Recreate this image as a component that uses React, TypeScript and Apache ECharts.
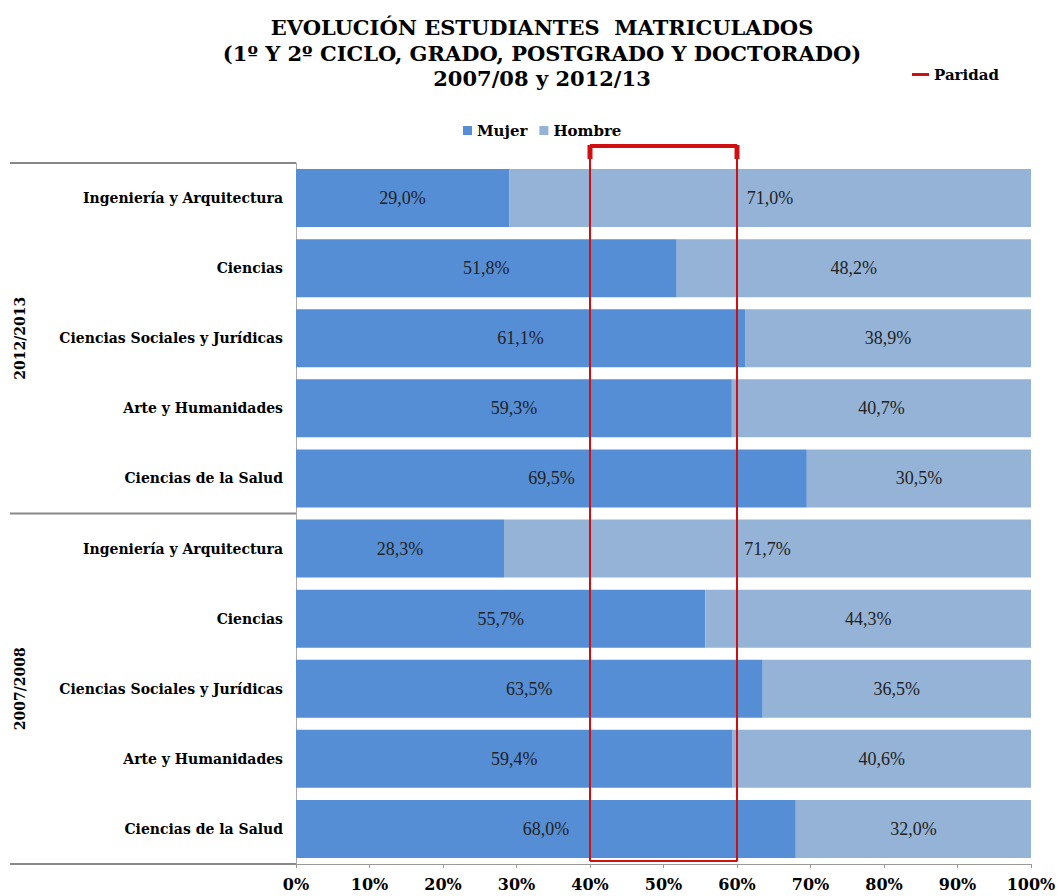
import React, { useEffect, useRef } from "react";
import * as echarts from "echarts";

const titleLines = [
  "EVOLUCIÓN ESTUDIANTES  MATRICULADOS",
  "(1º Y 2º CICLO, GRADO, POSTGRADO Y DOCTORADO)",
  "2007/08 y 2012/13",
];
const categories = [
  "Ingeniería y Arquitectura",
  "Ciencias",
  "Ciencias Sociales y Jurídicas",
  "Arte y Humanidades",
  "Ciencias de la Salud",
  "Ingeniería y Arquitectura",
  "Ciencias",
  "Ciencias Sociales y Jurídicas",
  "Arte y Humanidades",
  "Ciencias de la Salud",
];
const groups = ["2012/2013", "2007/2008"];
const mujer = [29.0, 51.8, 61.1, 59.3, 69.5, 28.3, 55.7, 63.5, 59.4, 68.0];
const hombre = [71.0, 48.2, 38.9, 40.7, 30.5, 71.7, 44.3, 36.5, 40.6, 32.0];
const parityRange = [40, 60];

const SERIF = "'Liberation Serif', 'Times New Roman', serif";
const HEAVY = "'DejaVu Serif', serif";

export default function App() {
  const ref = useRef<HTMLDivElement>(null);
  useEffect(() => {
    const chart = echarts.init(ref.current!, null, { renderer: "svg" });
    const fmt = (p: any) => p.value.toFixed(1).replace(".", ",") + "%";
    const parityData = [
      [parityRange[0], 0],
      [parityRange[0], 1],
      [parityRange[1], 1],
      [parityRange[1], 0],
      [parityRange[0], 0],
    ];
    const gridLeft = 296;
    const gridTop = 163;
    const gridBottomY = 864;
    const groupH = (gridBottomY - gridTop) / 2;
    const heavyText = {
      fontFamily: HEAVY,
      fontWeight: "bold",
      color: "#000",
    };
    chart.setOption({
      animation: false,
      backgroundColor: "#ffffff",
      textStyle: { fontFamily: HEAVY },
      title: {
        text: titleLines.join("\n"),
        left: 537,
        top: 10,
        textAlign: "center",
        textStyle: {
          ...heavyText,
          fontSize: 21,
          lineHeight: 25.5,
        },
      },
      legend: [
        {
          data: ["Mujer", "Hombre"],
          left: 458,
          top: 118,
          itemWidth: 9,
          itemHeight: 9,
          itemGap: 12,
          icon: "rect",
          textStyle: { ...heavyText, fontSize: 15 },
        },
        {
          data: [{ name: "Paridad", icon: "rect" }],
          left: 907,
          top: 62,
          itemWidth: 17,
          itemHeight: 3,
          textStyle: { ...heavyText, fontSize: 15 },
        },
      ],
      grid: [
        { left: gridLeft, right: 28, top: gridTop, bottom: 896 - gridBottomY },
        { left: gridLeft, right: 28, top: 146, bottom: 35 },
      ],
      xAxis: [
        {
          type: "value",
          gridIndex: 0,
          min: 0,
          max: 100,
          interval: 10,
          axisLine: { show: true, lineStyle: { color: "#999", width: 1 } },
          axisTick: { show: true, length: 4, lineStyle: { color: "#999" } },
          splitLine: { show: false },
          axisLabel: {
            ...heavyText,
            formatter: "{value}%",
            fontSize: 16,
            margin: 12,
          },
        },
        { type: "value", gridIndex: 1, min: 0, max: 100, show: false },
      ],
      yAxis: [
        {
          type: "category",
          gridIndex: 0,
          data: categories,
          inverse: true,
          axisLine: { show: true, lineStyle: { color: "#aaa", width: 1 } },
          axisTick: { show: false },
          axisLabel: {
            ...heavyText,
            fontSize: 14,
            margin: 13,
          },
        },
        { type: "value", gridIndex: 1, min: 0, max: 1, show: false },
      ],
      series: [
        {
          name: "Mujer",
          type: "bar",
          stack: "total",
          data: mujer,
          barWidth: 58,
          itemStyle: { color: "#558ed5" },
          label: {
            show: true,
            position: "inside",
            formatter: fmt,
            fontFamily: SERIF,
            fontSize: 18,
            color: "#222",
          },
        },
        {
          name: "Hombre",
          type: "bar",
          stack: "total",
          data: hombre,
          barWidth: 58,
          itemStyle: { color: "#95b3d7" },
          label: {
            show: true,
            position: "inside",
            formatter: fmt,
            fontFamily: SERIF,
            fontSize: 18,
            color: "#222",
          },
        },
        {
          name: "Paridad",
          type: "line",
          xAxisIndex: 1,
          yAxisIndex: 1,
          data: parityData,
          showSymbol: false,
          symbol: "none",
          itemStyle: { color: "#d01010" },
          lineStyle: { color: "#d01010", width: 2 },
          z: 5,
        },
        {
          name: "ParidadTop",
          type: "line",
          xAxisIndex: 1,
          yAxisIndex: 1,
          data: [
            [parityRange[0], 1],
            [parityRange[1], 1],
          ],
          symbol: "rect",
          symbolSize: [5, 14],
          symbolOffset: [0, 6],
          itemStyle: { color: "#d01010" },
          lineStyle: { color: "#d01010", width: 4 },
          z: 5,
        },
      ],
      graphic: [
        {
          type: "line",
          shape: { x1: 10, y1: gridTop, x2: gridLeft, y2: gridTop },
          style: { stroke: "#888", lineWidth: 2 },
        },
        {
          type: "line",
          shape: { x1: 10, y1: gridTop + groupH, x2: gridLeft, y2: gridTop + groupH },
          style: { stroke: "#888", lineWidth: 2 },
        },
        {
          type: "line",
          shape: { x1: 10, y1: gridBottomY, x2: gridLeft, y2: gridBottomY },
          style: { stroke: "#888", lineWidth: 2 },
        },
        ...groups.map((g, i) => ({
          type: "text",
          x: 20,
          y: gridTop + groupH * (i + 0.5),
          rotation: Math.PI / 2,
          style: {
            text: g,
            fontFamily: HEAVY,
            fontWeight: "bold",
            fontSize: 14,
            fill: "#000",
            align: "center",
            verticalAlign: "middle",
          },
        })),
      ],
    });
    return () => chart.dispose();
  }, []);
  return (
    <div
      ref={ref}
      style={{ position: "fixed", left: 0, top: 0, width: 1059, height: 896 }}
    />
  );
}
